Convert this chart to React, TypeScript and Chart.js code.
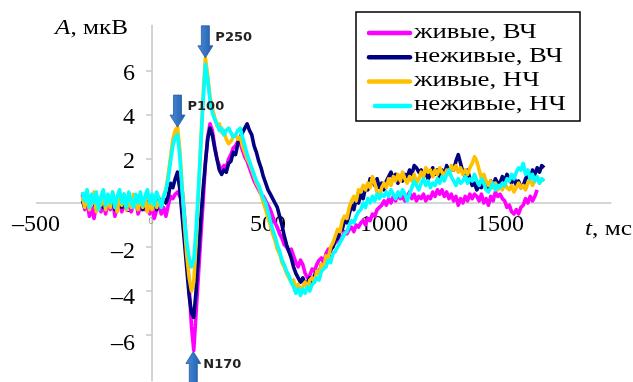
import React, { useEffect, useRef } from "react";
import { Chart, registerables } from "chart.js";
Chart.register(...registerables);

// sampling times, ms (step 10 ms from -300)
const times: number[] = Array.from({ length: 200 }, (_, i) => -300 + 10 * i);

const seriesNames = ["живые, ВЧ", "неживые, ВЧ", "живые, НЧ", "неживые, НЧ"];
const seriesColors = ["#ff00ff", "#000080", "#ffc000", "#00ffff"];

const liveHF: (number | null)[] = [
  0.4, -0.3, 0.1, -0.6, -0.2, -0.7, -0.1, 0.2, -0.4, 0.0,
  -0.5, 0.1, -0.3, 0.2, -0.6, -0.2, 0.1, -0.4, 0.0, -0.3,
  0.1, -0.4, -0.1, 0.2, -0.5, -0.2, 0.1, -0.3, 0.0, -0.5,
  -0.2, -0.7, -0.3, -0.1, -0.5, -0.2, -0.6, -0.1, 0.3, 0.2,
  0.4, 0.5, 0.3, 0.6, -0.6, -2.2, -3.8, -5.6, -6.7, -5.0,
  -3.3, -1.6, 0.0, 1.8, 3.0, 3.6, 3.3, 2.6, 2.0, 1.7,
  1.5, 1.7, 1.6, 2.0, 2.2, 2.5, 2.6, 2.8, 2.7, 2.4,
  2.1, 1.9, 1.6, 1.3, 1.0, 0.8, 0.6, 0.4, 0.3, 0.1,
  -0.1, -0.3, -0.6, -0.9, -1.1, -1.4, -1.6, -1.9, -2.0, -2.2,
  -2.1, -2.4, -2.7, -2.9, -2.6, -2.8, -3.2, -3.4, -3.3, -3.0,
  -3.1, -2.8, -2.6, -2.5, -2.7, -2.3, -2.1, -2.2, -1.9, -1.8,
  -1.7, -1.5, -1.6, -1.3, -1.4, -1.2, -1.1, -1.3, -1.0, -1.1,
  -0.9, -0.8, -1.0, -0.7, -0.8, -0.5, -0.6, -0.3, -0.2, -0.1,
  0.1, -0.1, 0.2, 0.0, 0.3, 0.1, 0.4, 0.2, 0.3, 0.1,
  0.3, 0.5, 0.2, 0.4, 0.1, 0.3, 0.2, 0.4, 0.1, 0.3,
  0.2, 0.5, 0.3, 0.6, 0.4, 0.6, 0.3, 0.5, 0.2, 0.4,
  0.1, 0.3, -0.1, 0.2, 0.0, 0.3, 0.1, 0.4, 0.2, 0.4,
  0.3, 0.1, 0.4, 0.0, 0.2, -0.1, 0.3, 0.1, 0.5, 0.3,
  0.4, 0.2, 0.1, -0.2, -0.1, -0.4, -0.5, -0.3, -0.5, -0.2,
  -0.1, 0.2, 0.0, 0.3, 0.1, 0.3, 0.6, null, null, null,
];

const deadHF: number[] = [
  0.1, -0.2, 0.2, -0.1, 0.3, 0.0, -0.3, 0.1, 0.2, -0.2,
  0.0, 0.3, -0.1, 0.2, -0.3, 0.1, 0.0, -0.2, 0.3, -0.1,
  0.2, -0.2, 0.1, 0.3, -0.1, 0.0, -0.3, 0.2, -0.1, 0.1,
  -0.2, 0.0, -0.3, 0.2, -0.1, 0.2, 0.0, 0.3, 0.9, 0.7,
  1.1, 1.4, 0.6, -0.6, -1.8, -3.0, -4.2, -5.0, -5.2, -4.0,
  -2.4, -0.8, 0.6, 1.8, 2.9, 3.4, 3.1, 2.5, 2.0, 1.5,
  1.3, 1.5, 1.4, 1.8, 1.9, 2.3, 2.2, 2.7, 3.0, 3.2,
  3.4, 3.6, 3.3, 3.1, 2.6, 2.3, 1.9, 1.6, 1.2, 0.9,
  0.6, 0.4, 0.2, 0.0, -0.2, -0.6, -1.0, -1.5, -1.9, -2.2,
  -2.5, -2.9, -3.2, -3.4, -3.6, -3.4, -3.7, -3.6, -3.4, -3.7,
  -3.3, -3.1, -3.2, -2.8, -2.9, -2.6, -2.5, -2.1, -2.0, -1.7,
  -1.6, -1.3, -1.2, -0.8, -0.9, -0.5, -0.1, -0.3, 0.2, 0.0,
  0.4, 0.2, 0.7, 0.6, 1.1, 1.0, 0.8, 1.1, 0.7, 0.9,
  0.6, 1.0, 1.2, 1.4, 1.1, 1.3, 0.9, 1.2, 1.0, 1.3,
  1.2, 1.5, 1.3, 1.7, 1.6, 1.4, 1.5, 1.2, 1.4, 1.1,
  1.3, 1.6, 1.3, 1.5, 1.2, 1.5, 1.3, 1.7, 1.4, 1.6,
  1.5, 1.9, 2.2, 1.8, 1.4, 1.2, 1.5, 1.1, 0.8, 0.9,
  0.6, 0.8, 0.7, 1.0, 0.8, 0.7, 1.0, 0.8, 1.1, 0.9,
  0.9, 1.2, 1.0, 1.3, 1.1, 0.9, 1.2, 0.8, 1.0, 0.7,
  0.8, 1.1, 1.3, 1.0, 1.5, 1.3, 1.6, 1.4, 1.7, 1.6,
];

const liveLF: number[] = [
  0.3, -0.2, 0.4, -0.3, 0.1, 0.5, -0.4, 0.2, -0.1, 0.4,
  -0.3, 0.3, -0.2, 0.5, 0.0, -0.4, 0.3, -0.1, 0.4, -0.3,
  0.2, -0.2, 0.4, 0.0, -0.3, 0.3, -0.2, 0.2, -0.4, 0.1,
  -0.3, 0.2, -0.2, 0.1, -0.1, 0.3, 0.6, 1.3, 2.1, 2.9,
  3.3, 3.45, 2.4, 0.7, -1.0, -2.4, -3.4, -4.0, -3.6, -1.8,
  0.4, 2.6, 4.8, 6.6, 5.8, 4.8, 4.3, 3.9, 3.5, 3.6,
  3.2, 3.3, 2.9, 2.7, 2.8, 3.0, 3.1, 2.9, 3.0, 2.6,
  2.3, 2.0, 1.8, 1.5, 1.2, 0.9, 0.7, 0.4, 0.0, -0.3,
  -0.7, -1.0, -1.4, -1.7, -2.1, -2.3, -2.7, -2.9, -3.2, -3.4,
  -3.6, -3.5, -3.9, -3.7, -4.0, -3.8, -3.6, -3.9, -3.5, -3.4,
  -3.6, -3.1, -3.2, -2.8, -2.9, -2.4, -2.5, -2.0, -1.8, -1.5,
  -1.2, -1.3, -0.8, -0.6, -0.7, -0.2, 0.1, 0.3, 0.1, 0.6,
  0.5, 0.8, 0.6, 0.9, 0.7, 1.2, 0.9, 0.5, 0.3, 0.7,
  0.9, 0.7, 1.1, 0.8, 1.2, 1.0, 1.3, 1.0, 1.4, 1.1,
  0.9, 1.2, 1.0, 1.3, 0.9, 1.1, 1.4, 1.2, 1.6, 1.4,
  1.5, 1.2, 1.5, 1.3, 1.6, 1.4, 1.2, 1.5, 1.3, 1.7,
  1.5, 1.7, 1.4, 1.6, 1.3, 1.5, 1.3, 1.6, 1.8, 2.1,
  1.9, 1.5, 1.1, 1.3, 1.0, 0.8, 1.0, 0.7, 0.9, 0.6,
  0.8, 0.6, 0.9, 0.7, 0.6, 0.8, 0.5, 0.7, 0.9, 0.7,
  0.8, 0.6, 0.9, 1.1, 0.8, 1.0, 1.2, 0.9, 1.1, 1.0,
];

const deadLF: number[] = [
  0.5, 0.1, 0.6, -0.2, 0.4, 0.0, 0.5, -0.3, 0.3, 0.6,
  -0.1, 0.4, 0.0, 0.5, -0.2, 0.3, 0.6, 0.0, 0.4, -0.2,
  0.5, 0.1, -0.2, 0.4, 0.0, 0.5, -0.1, 0.3, 0.6, 0.0,
  0.4, -0.1, 0.5, 0.2, -0.2, 0.3, 0.6, 1.1, 1.9, 2.6,
  3.0, 3.1, 2.1, 0.6, -0.7, -1.8, -2.5, -2.9, -2.6, -1.2,
  0.6, 2.6, 4.6, 6.3, 5.6, 4.7, 4.1, 3.8, 3.6, 3.3,
  3.4, 3.1, 3.3, 3.4, 3.2, 3.0, 3.1, 3.3, 3.4, 3.0,
  2.6, 2.2, 1.9, 1.6, 1.3, 1.0, 0.8, 0.5, 0.2, 0.0,
  -0.4, -0.8, -1.2, -1.5, -1.9, -2.2, -2.6, -2.8, -3.1, -3.3,
  -3.6, -3.8, -4.1, -3.9, -4.2, -3.9, -4.1, -3.8, -4.0, -3.7,
  -3.6, -3.4, -3.5, -3.1, -3.0, -2.9, -2.6, -2.7, -2.3, -2.2,
  -2.0, -1.8, -1.6, -1.4, -1.3, -1.0, -0.8, -0.9, -0.6, -0.4,
  -0.3, 0.0, -0.2, 0.2, 0.0, 0.3, 0.1, 0.4, 0.2, 0.4,
  0.3, 0.5, 0.3, 0.6, 0.4, 0.2, 0.5, 0.3, 0.6, 0.4,
  0.1, 0.4, 0.7, 1.0, 0.8, 0.6, 0.9, 1.1, 0.8, 1.0,
  0.7, 0.9, 0.8, 1.1, 0.9, 1.2, 1.0, 1.3, 1.5, 1.2,
  1.0, 0.8, 1.1, 0.9, 1.0, 1.2, 0.9, 1.1, 1.0, 1.3,
  1.0, 0.8, 1.1, 0.9, 0.6, 0.5, 0.7, 0.9, 0.6, 0.8,
  0.7, 0.9, 0.8, 1.1, 1.0, 1.3, 1.1, 1.4, 1.6, 1.5,
  1.8, 1.3, 1.5, 1.1, 1.3, 1.0, 1.2, 0.9, 1.1, 1.0,
];

const allSeries = [liveHF, deadHF, liveLF, deadLF];

const yTickValues = [-6, -4, -2, 0, 2, 4, 6];
const xTickValues = [-500, 500, 1000, 1500];

// ERP component markers
const peakLabels = ["P100", "P250", "N170"];
const peakTimes = [110, 230, 178];
const peakValues = [3.45, 6.6, -6.75];
const peakDirs = ["down", "down", "up"];

const fmt = (v: number) => (v < 0 ? "\u2013" + Math.abs(v) : String(v));

function drawArrow(ctx: CanvasRenderingContext2D, tx: number, ty: number, dir: string) {
  const len = 32, head = 12, hw = 7.5, sw = 4;
  const d = dir === "down" ? -1 : 1;
  ctx.beginPath();
  ctx.moveTo(tx, ty);
  ctx.lineTo(tx - hw, ty + d * head);
  ctx.lineTo(tx - sw, ty + d * head);
  ctx.lineTo(tx - sw, ty + d * len);
  ctx.lineTo(tx + sw, ty + d * len);
  ctx.lineTo(tx + sw, ty + d * head);
  ctx.lineTo(tx + hw, ty + d * head);
  ctx.closePath();
  const g = ctx.createLinearGradient(tx - hw, 0, tx + hw, 0);
  g.addColorStop(0, "#4a8ad8");
  g.addColorStop(1, "#1f5fb0");
  ctx.fillStyle = g;
  ctx.fill();
  ctx.strokeStyle = "#2a5a9a";
  ctx.lineWidth = 0.8;
  ctx.stroke();
}

// draws an [italic, regular] title stretched to a given width
function drawTitle(ctx: CanvasRenderingContext2D, ital: string, rest: string, x: number, y: number, size: number, width: number) {
  ctx.font = `italic ${size}px 'Liberation Serif'`;
  const w1 = ctx.measureText(ital).width;
  ctx.font = `${size}px 'Liberation Serif'`;
  const w2 = ctx.measureText(rest).width;
  const sx = width / (w1 + w2);
  ctx.save();
  ctx.translate(x, y);
  ctx.scale(sx, 1);
  ctx.font = `italic ${size}px 'Liberation Serif'`;
  ctx.fillText(ital, 0, 0);
  ctx.font = `${size}px 'Liberation Serif'`;
  ctx.fillText(rest, w1, 0);
  ctx.restore();
}

const overlayPlugin = {
  id: "overlay",
  beforeDatasetsDraw(chart: any) {
    const { ctx, chartArea } = chart;
    const x = chart.scales.x;
    const y = chart.scales.y;
    const x0 = x.getPixelForValue(0);
    const y0 = y.getPixelForValue(0);
    ctx.save();
    ctx.strokeStyle = "#c8c8c8";
    ctx.lineWidth = 1.6;
    ctx.beginPath();
    ctx.moveTo(chartArea.left, y0);
    ctx.lineTo(chartArea.right, y0);
    ctx.moveTo(x0, chartArea.top);
    ctx.lineTo(x0, chartArea.bottom);
    for (const v of yTickValues) {
      if (v === 0) continue;
      const py = y.getPixelForValue(v);
      ctx.moveTo(x0 - 6, py);
      ctx.lineTo(x0, py);
    }
    ctx.stroke();
    // tiny original axis zero
    ctx.fillStyle = "#9a9a9a";
    ctx.font = "9px 'DejaVu Sans'";
    ctx.textAlign = "center";
    ctx.textBaseline = "middle";
    ctx.fillText("0", x0 - 1, y0 + 19);

    ctx.fillStyle = "#000";
    ctx.font = "24px 'Liberation Serif'";
    ctx.textAlign = "right";
    ctx.textBaseline = "middle";
    for (const v of yTickValues) {
      const py = y.getPixelForValue(v);
      ctx.fillText(fmt(v), x0 - 17, py + 3 + (v < 0 ? -v * 1.0 : 0));
    }
    ctx.textAlign = "center";
    for (const v of xTickValues) {
      ctx.fillText(fmt(v), x.getPixelForValue(v), y0 + 22);
    }
    // axis titles
    ctx.textAlign = "left";
    ctx.textBaseline = "alphabetic";
    drawTitle(ctx, "A", ", мкВ", 55, 34, 22, 73);
    drawTitle(ctx, "t", ", мс", 585, 235, 22, 47);
    ctx.restore();
  },
  afterDatasetsDraw(chart: any) {
    const { ctx } = chart;
    const x = chart.scales.x;
    const y = chart.scales.y;
    ctx.save();
    for (let i = 0; i < peakLabels.length; i++) {
      const px = x.getPixelForValue(peakTimes[i]);
      const py = y.getPixelForValue(peakValues[i]);
      drawArrow(ctx, px, py, peakDirs[i]);
      ctx.fillStyle = "#222";
      ctx.font = "bold 13px 'DejaVu Sans'";
      ctx.textAlign = "left";
      ctx.textBaseline = "middle";
      const dy = peakDirs[i] === "down" ? -20 : 13;
      ctx.fillText(peakLabels[i], px + 10, py + dy);
    }
    // legend
    const bx = 356, by = 12, bw = 224, bh = 109;
    ctx.fillStyle = "#fff";
    ctx.fillRect(bx, by, bw, bh);
    ctx.strokeStyle = "#000";
    ctx.lineWidth = 1.5;
    ctx.strokeRect(bx, by, bw, bh);
    ctx.textAlign = "left";
    ctx.textBaseline = "alphabetic";
    ctx.font = "21px 'Liberation Serif'";
    const sx = 149 / ctx.measureText(seriesNames[1]).width;
    for (let i = 0; i < seriesNames.length; i++) {
      const ly = by + 21 + i * 24.3;
      ctx.strokeStyle = seriesColors[i];
      ctx.lineWidth = 4.5;
      ctx.lineCap = "round";
      ctx.beginPath();
      ctx.moveTo(i === 3 ? 375 : 369, ly);
      ctx.lineTo(410, ly);
      ctx.stroke();
      ctx.save();
      ctx.translate(414, ly + 4.5);
      ctx.scale(sx, 1);
      ctx.fillStyle = "#000";
      ctx.fillText(seriesNames[i], 0, 0);
      ctx.restore();
    }
    ctx.restore();
  },
};

export default function App() {
  const ref = useRef<HTMLCanvasElement>(null);
  useEffect(() => {
    document.body.style.margin = "0";
    const canvas = ref.current!;
    const drawOrder = [4, 3, 2, 1];
    const chart = new Chart(canvas, {
      type: "line",
      data: {
        datasets: allSeries.map((vals, k) => ({
          label: seriesNames[k],
          data: vals.map((v, i) => ({ x: times[i], y: v })),
          borderColor: seriesColors[k],
          backgroundColor: seriesColors[k],
          borderWidth: 3.6,
          pointRadius: 0,
          tension: 0,
          borderJoinStyle: "round" as const,
          fill: false,
          order: drawOrder[k],
        })),
      },
      options: {
        animation: false,
        responsive: false,
        events: [],
        layout: { padding: { left: 36, right: 21.6, top: 24.8, bottom: 0.8 } },
        plugins: { legend: { display: false }, tooltip: { enabled: false } },
        scales: {
          x: { type: "linear", min: -500, max: 1980, display: false },
          y: { type: "linear", min: -8.1, max: 8.1, display: false },
        },
      },
      plugins: [overlayPlugin],
    });
    return () => chart.destroy();
  }, []);
  return (
    <div style={{ width: 633, height: 382, background: "#fff" }}>
      <canvas ref={ref} width={633} height={382} />
    </div>
  );
}
